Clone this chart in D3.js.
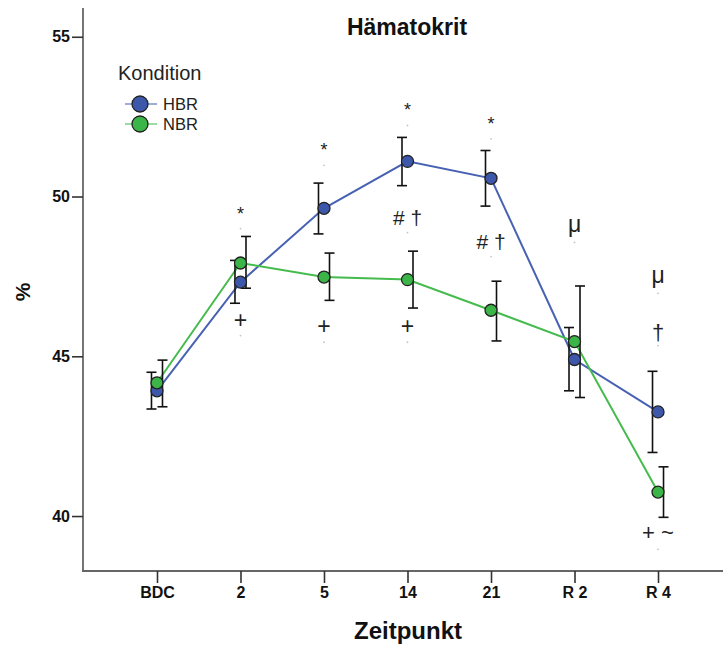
<!DOCTYPE html>
<html><head><meta charset="utf-8">
<script src="https://cdn.jsdelivr.net/npm/d3@7"></script>
<style>body{margin:0;background:#fff}svg{display:block;font-family:"Liberation Sans",Arial,sans-serif}</style>
</head><body>
<script>
const categories = ["BDC","2","5","14","21","R 2","R 4"];
const seriesNames = ["HBR","NBR"];
const hbrMean  = [43.92,47.32,49.63,51.10,50.57,44.90,43.26];
const hbrLow   = [43.35,46.66,48.83,50.34,49.70,43.92,41.99];
const hbrHigh  = [44.50,48.00,50.42,51.85,51.44,45.90,44.53];
const nbrMean  = [44.17,47.92,47.48,47.40,46.44,45.46,40.75];
const nbrLow   = [43.42,47.13,46.75,46.51,45.48,43.71,39.96];
const nbrHigh  = [44.88,48.75,48.23,48.29,47.35,47.20,41.54];
const yTicks = [40,45,50,55];
// significance annotations: [category, value at text centre, text]
const annotations = [
  ["2",49.59,"*"],["5",51.57,"*"],["14",52.82,"*"],["21",52.40,"*"],
  ["14",49.31,"# †"],["21",48.56,"# †"],
  ["2",46.15,"+"],["5",45.94,"+"],["14",45.94,"+"],
  ["R 2",49.0,"μ"],["R 4",47.41,"μ"],["R 4",45.71,"†"],["R 4",39.49,"+ ~"]
];

const W=723,H=648;
const svg=d3.select("body").append("svg").attr("width",W).attr("height",H);
const y=d3.scaleLinear().domain([38.28,55.9]).range([571,8]);
const x=d3.scalePoint().domain(categories).range([83,732]).padding(0.886);

const colors={HBR:{line:"#4862b3",fill:"#3d58aa"},NBR:{line:"#45bb4d",fill:"#3cb548"}};
const series=[
  {name:"HBR",mean:hbrMean,low:hbrLow,high:hbrHigh,off:-5.5},
  {name:"NBR",mean:nbrMean,low:nbrLow,high:nbrHigh,off:5.5}
];

// axes
const yAxis=svg.append("g").attr("transform","translate(83,0)")
  .call(d3.axisLeft(y).tickValues(yTicks).tickSize(11).tickPadding(2).tickSizeOuter(0));
const xAxis=svg.append("g").attr("transform","translate(0,571)")
  .call(d3.axisBottom(x).tickSize(12).tickSizeOuter(0));
[yAxis,xAxis].forEach(g=>{
  g.select(".domain").attr("stroke","#666").attr("stroke-width",1.8);
  g.selectAll(".tick line").attr("stroke","#333").attr("stroke-width",1.6);
  g.selectAll(".tick text").attr("fill","#111").attr("font-weight","bold").attr("font-size",16)
   .attr("font-family","'Liberation Sans',Arial,sans-serif");
});
yAxis.select(".domain").attr("d","M0,8V572");
xAxis.select(".domain").attr("d","M82,0H723");
xAxis.selectAll(".tick text").attr("y",16);

// lines
series.forEach(s=>{
  const line=d3.line().x((d,i)=>x(categories[i])).y(d=>y(d));
  svg.append("path").datum(s.mean).attr("d",line).attr("fill","none")
    .attr("stroke",colors[s.name].line).attr("stroke-width",2);
});
// error bars
series.forEach(s=>{
  const g=svg.append("g").attr("stroke","#111").attr("stroke-width",1.6);
  categories.forEach((c,i)=>{
    const cx=x(c)+s.off;
    g.append("line").attr("x1",cx).attr("x2",cx).attr("y1",y(s.low[i])).attr("y2",y(s.high[i]));
    g.append("line").attr("x1",cx-5).attr("x2",cx+5).attr("y1",y(s.low[i])).attr("y2",y(s.low[i]));
    g.append("line").attr("x1",cx-5).attr("x2",cx+5).attr("y1",y(s.high[i])).attr("y2",y(s.high[i]));
  });
});
// dots
series.forEach(s=>{
  svg.append("g").selectAll("circle").data(s.mean).join("circle")
    .attr("cx",(d,i)=>x(categories[i])).attr("cy",d=>y(d)).attr("r",6)
    .attr("fill",colors[s.name].fill).attr("stroke","#222").attr("stroke-width",1.3);
});
// annotations
const sty={"*":{fs:18,dy:4,dot:19},"# †":{fs:21,dy:-1,dot:14},"+":{fs:23,dy:0,dot:16},
  "μ":{fs:23,dy:-4,dot:14},"†":{fs:22,dy:-1.5,dot:12},"+ ~":{fs:22,dy:0,dot:17}};
annotations.forEach(([c,v,t])=>{
  const st=sty[t];
  svg.append("text").attr("x",x(c)).attr("y",y(v)+st.dy).attr("text-anchor","middle")
    .attr("dominant-baseline","central")
    .attr("font-size",st.fs).attr("fill","#222").text(t);
  svg.append("circle").attr("cx",x(c)).attr("cy",y(v)+st.dot).attr("r",0.9)
    .attr("fill","#c4c4c4");
});

// title & labels
svg.append("text").attr("x",407).attr("y",35).attr("text-anchor","middle")
  .attr("font-weight","bold").attr("font-size",23).attr("fill","#111").text("Hämatokrit");
svg.append("text").attr("transform","translate(30,292) rotate(-90)").attr("text-anchor","middle")
  .attr("font-weight","bold").attr("font-size",21).attr("fill","#111").text("%");
svg.append("text").attr("x",408).attr("y",639).attr("text-anchor","middle")
  .attr("font-weight","bold").attr("font-size",24).attr("fill","#111").text("Zeitpunkt");

// legend
const lg=svg.append("g");
lg.append("text").attr("x",118).attr("y",80).attr("font-size",20).attr("fill","#222").text("Kondition");
seriesNames.forEach((n,i)=>{
  const yy=104+i*20;
  lg.append("line").attr("x1",125).attr("x2",157).attr("y1",yy).attr("y2",yy)
    .attr("stroke",colors[n].line).attr("stroke-width",1.5).attr("opacity",0.7);
  lg.append("circle").attr("cx",140).attr("cy",yy).attr("r",8)
    .attr("fill",colors[n].fill).attr("stroke","#222").attr("stroke-width",1.3);
  lg.append("text").attr("x",163).attr("y",yy+6).attr("font-size",16.5).attr("fill","#222").text(n);
});
</script>
</body></html>
